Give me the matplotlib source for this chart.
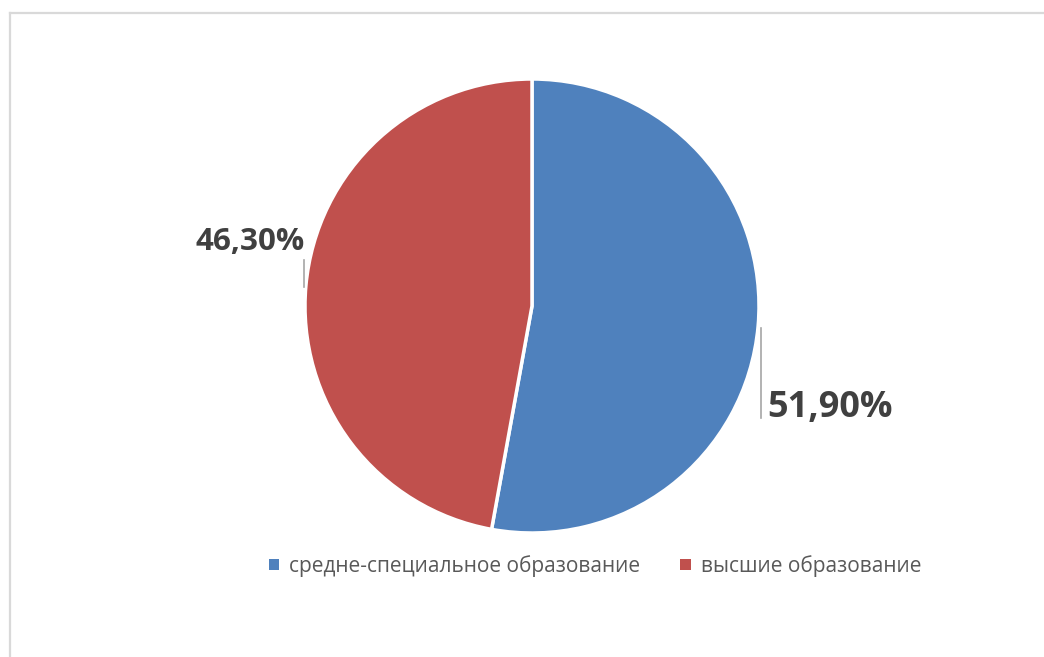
import matplotlib.pyplot as plt
from matplotlib.patches import Patch
from matplotlib.lines import Line2D

# data
labels = ['средне-специальное образование', 'высшие образование']
values = [51.90, 46.30]
value_text = ['51,90%', '46,30%']
colors = ['#4f81bd', '#c0504d']

plt.rcParams['font.family'] = ['Open Sans', 'DejaVu Sans']

W, H = 1044, 657
fig = plt.figure(figsize=(W / 100, H / 100), dpi=100)

# light grey chart frame (left and top edges visible)
fig.add_artist(Line2D([9.5 / W, 9.5 / W], [0, 1 - 13 / H], color='#d9d9d9', lw=1.6))
fig.add_artist(Line2D([9.5 / W, 1], [1 - 13 / H, 1 - 13 / H], color='#d9d9d9', lw=1.6))

cx, cy, r = 532, 306, 227
ax = fig.add_axes([(cx - r) / W, (H - cy - r) / H, 2 * r / W, 2 * r / H])
ax.pie(values, colors=colors, startangle=90, counterclock=False, radius=1,
       wedgeprops=dict(edgecolor='white', linewidth=2.5))
ax.set_xlim(-1, 1)
ax.set_ylim(-1, 1)
ax.set_aspect('equal')
ax.axis('off')

# leader lines and labels
ax.plot([1.009, 1.009], [-0.097, -0.493], color='#a6a6a6', lw=1.2, clip_on=False)
ax.plot([-1.004, -1.004], [0.203, 0.084], color='#a6a6a6', lw=1.2, clip_on=False)
ax.text(1.035, -0.489, value_text[0], ha='left', va='baseline', fontsize=26,
        fontweight='bold', color='#404040', clip_on=False)
ax.text(-1.0, 0.247, value_text[1], ha='right', va='baseline', fontsize=22.6,
        fontweight='bold', color='#404040', clip_on=False)

handles = [Patch(facecolor=c, edgecolor='none') for c in colors]
fig.legend(handles, labels, loc='center', bbox_to_anchor=(595 / W, 1 - 566 / H),
           ncol=2, frameon=False, fontsize=15, labelcolor='#595959',
           handlelength=0.5, handleheight=0.5, handletextpad=0.5, columnspacing=1.9)

fig.savefig('out.png', dpi=100)
